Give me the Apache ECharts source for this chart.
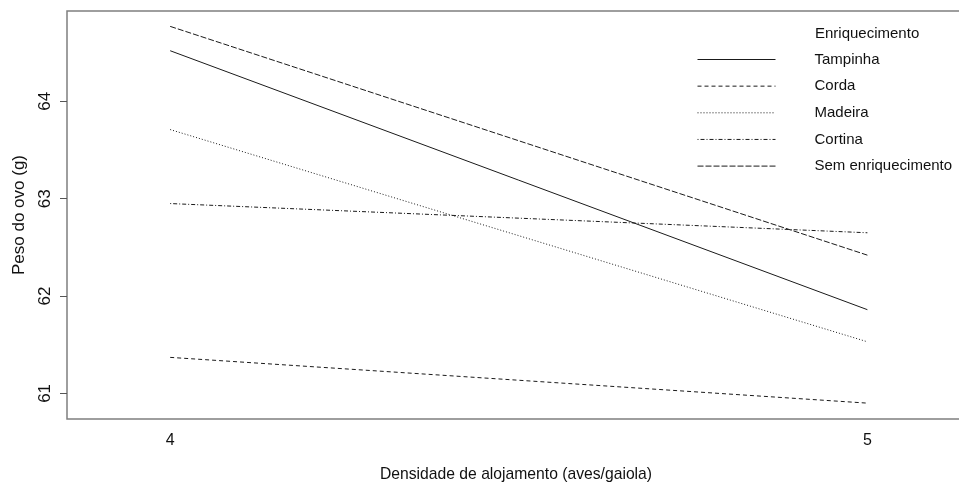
<!DOCTYPE html>
<html>
<head>
<meta charset="utf-8">
<script src="https://cdn.jsdelivr.net/npm/echarts@6/dist/echarts.min.js"></script>
<style>html,body{margin:0;padding:0;background:#fff}#c{width:959px;height:486px}</style>
</head>
<body>
<div id="c"></div>
<script>
// Data
var densities = [4, 5];
var groups = ['Tampinha', 'Corda', 'Madeira', 'Cortina', 'Sem enriquecimento'];
var tampinha = [64.52, 61.86];
var corda = [61.37, 60.90];
var madeira = [63.71, 61.53];
var cortina = [62.95, 62.65];
var semEnriquecimento = [64.77, 62.42];
var yTicks = [61, 62, 63, 64];
var legendTitle = 'Enriquecimento';
var xTitle = 'Densidade de alojamento (aves/gaiola)';
var yTitle = 'Peso do ovo (g)';

var valuesList = [tampinha, corda, madeira, cortina, semEnriquecimento];
var dashes = ['solid', [4, 3], [1, 2], [1, 2, 4, 2], [6, 2]];

var FONT = "'Liberation Sans', Arial, sans-serif";

var chart = echarts.init(document.getElementById('c'), null, {renderer: 'canvas'});

var series = groups.map(function (g, i) {
  return {
    name: g,
    type: 'line',
    symbol: 'none',
    silent: true,
    animation: false,
    data: densities.map(function (d, j) { return [d, valuesList[i][j]]; }),
    lineStyle: {color: '#1a1a1a', width: 1, type: dashes[i]},
    itemStyle: {color: '#1a1a1a'}
  };
});

chart.setOption({
  animation: false,
  title: {
    text: legendTitle,
    left: 810, top: 21,
    textStyle: {fontFamily: FONT, fontSize: 15, fontWeight: 'normal', color: '#111'}
  },
  legend: {
    orient: 'vertical',
    left: 692, top: 47,
    itemWidth: 78, itemHeight: 14, itemGap: 11.65,
    data: groups,
    selectedMode: false,
    itemStyle: {opacity: 0},
    lineStyle: {width: 1},
    textStyle: {fontFamily: FONT, fontSize: 15, color: '#111', padding: [0, 0, 0, 34]}
  },
  grid: {
    left: 67, top: 11, bottom: 67, right: -6,
    containLabel: false, outerBoundsMode: 'none',
    show: true, borderColor: '#7f7f7f', borderWidth: 1.5, backgroundColor: 'transparent'
  },
  xAxis: {
    type: 'value', min: 3.852, max: 5.14,
    name: xTitle, nameLocation: 'middle', nameGap: 48,
    nameTextStyle: {fontFamily: FONT, fontSize: 15.7, color: '#111'},
    axisLine: {show: false},
    axisTick: {show: false},
    splitLine: {show: false},
    axisLabel: {
      customValues: densities, margin: 14,
      fontFamily: FONT, fontSize: 16, color: '#111'
    }
  },
  yAxis: {
    type: 'value', min: 60.737, max: 64.928,
    name: yTitle, nameLocation: 'middle', nameGap: 39, nameRotate: 90,
    nameTextStyle: {fontFamily: FONT, fontSize: 17, color: '#111'},
    axisLine: {show: false},
    axisTick: {show: true, customValues: yTicks, length: 7, lineStyle: {color: '#555', width: 1}},
    splitLine: {show: false},
    axisLabel: {
      customValues: yTicks, rotate: 90, margin: 13,
      fontFamily: FONT, fontSize: 17, color: '#111'
    }
  },
  series: series
});
</script>
</body>
</html>
